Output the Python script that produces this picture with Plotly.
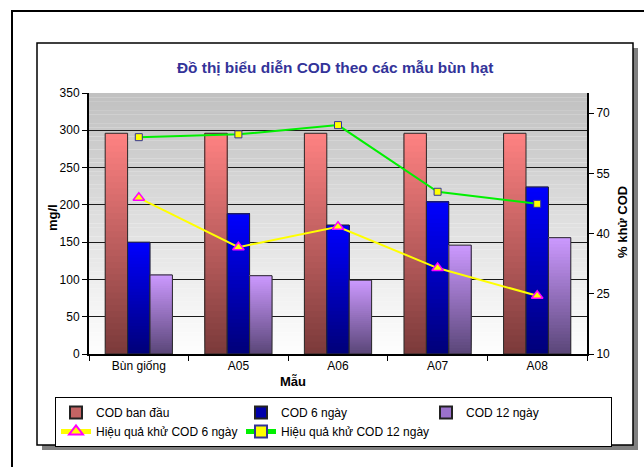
import plotly.graph_objects as go

# Sample categories and measured values
categories = ["Bùn giống", "A05", "A06", "A07", "A08"]
cod_ban_dau = [296, 296, 296, 296, 296]
cod_6_ngay = [150, 188, 173, 204, 224]
cod_12_ngay = [106, 105, 99, 146, 156]
hieu_qua_6 = [48.9, 36.6, 41.7, 31.4, 24.5]
hieu_qua_12 = [64.0, 64.7, 67.0, 50.4, 47.4]

left_ticks = [0, 50, 100, 150, 200, 250, 300, 350]
right_ticks = [10, 25, 40, 55, 70]

W, H = 644, 467
L, R, T, B = 89, 587, 93, 354  # plot area in pixels
FONT = "Liberation Sans, Arial, sans-serif"


def px_x(p):
    return (p - L) / (R - L)


def px_y(p):
    return (B - p) / (B - T)


def hex_to_rgb(h):
    h = h.lstrip("#")
    return tuple(int(h[i:i + 2], 16) for i in (0, 2, 4))


def mix(c0, c1, t):
    a, b = hex_to_rgb(c0), hex_to_rgb(c1)
    return "rgb(%d,%d,%d)" % tuple(round(a[i] + (b[i] - a[i]) * t) for i in range(3))


fig = go.Figure()

# Bar series: vertical gradient (dark at base, light at top) built from stacked layers
series = [
    ("COD ban đầu", cod_ban_dau, "#7a3a3a", "#ff8282", "#c46464", "red"),
    ("COD 6 ngày", cod_6_ngay, "#000078", "#0000ff", "#0000aa", "blue"),
    ("COD 12 ngày", cod_12_ngay, "#5a4678", "#cc99ff", "#9b72cc", "purple"),
]
N = 36
for name, vals, c_bot, c_top, c_leg, grp in series:
    for k in range(N):
        frac = k / N
        fig.add_trace(go.Bar(
            x=categories,
            y=[v * (1 - frac) for v in vals],
            base=[v * frac for v in vals],
            offsetgroup=grp,
            marker=dict(color=mix(c_bot, c_top, (k + 0.5) / N), line=dict(width=0)),
            showlegend=False, hoverinfo="skip",
        ))
    # outline
    fig.add_trace(go.Bar(
        x=categories, y=vals, offsetgroup=grp,
        marker=dict(color="rgba(0,0,0,0)", line=dict(color="#2a2a2a", width=1)),
        showlegend=False, hoverinfo="skip",
    ))
    # legend entry
    fig.add_trace(go.Bar(
        x=categories, y=[None] * len(categories), offsetgroup=grp, name=name,
        marker=dict(color=c_leg, line=dict(color="#222222", width=1)),
    ))

fig.add_trace(go.Scatter(
    x=categories, y=hieu_qua_6, yaxis="y2", name="Hiệu quả khử COD 6 ngày",
    mode="lines+markers",
    line=dict(color="#ffff00", width=2),
    marker=dict(symbol="triangle-up", size=10, color="#ffff00",
                line=dict(color="#ff00ff", width=1.5)),
))
fig.add_trace(go.Scatter(
    x=categories, y=hieu_qua_12, yaxis="y2", name="Hiệu quả khử COD 12 ngày",
    mode="lines+markers",
    line=dict(color="#00f000", width=2),
    marker=dict(symbol="square", size=7, color="#ffff00",
                line=dict(color="#333399", width=1)),
))

shapes = []
# outer border, chart shadow and chart frame
shapes.append(dict(type="rect", xref="paper", yref="paper", layer="below",
                   x0=px_x(12), x1=px_x(700), y0=px_y(520), y1=px_y(11),
                   line=dict(color="black", width=2), fillcolor="white"))
shapes.append(dict(type="rect", xref="paper", yref="paper", layer="below",
                   x0=px_x(42), x1=px_x(638), y0=px_y(450), y1=px_y(48),
                   line=dict(width=0), fillcolor="#808080"))
shapes.append(dict(type="rect", xref="paper", yref="paper", layer="below",
                   x0=px_x(37), x1=px_x(633), y0=px_y(445), y1=px_y(43),
                   line=dict(color="black", width=1.5), fillcolor="white"))
# plot area background: grey at top fading to white at the base
NB = 60
for i in range(NB):
    shapes.append(dict(type="rect", xref="x domain", yref="y domain", layer="below",
                       x0=0, x1=1, y0=i / NB, y1=(i + 1.02) / NB,
                       line=dict(width=0),
                       fillcolor=mix("#ffffff", "#c0c0c0", (i + 0.5) / NB)))

annotations = [
    dict(text="<b>Đồ thị biểu diễn COD theo các mẫu bùn hạt</b>", xref="paper", yref="paper",
         x=px_x(335), y=px_y(67), showarrow=False, xanchor="center", yanchor="middle",
         font=dict(family=FONT, size=15.4, color="#333399")),
    dict(text="<b>mg/l</b>", xref="paper", yref="paper", textangle=-90,
         x=px_x(52), y=px_y(218), showarrow=False, xanchor="center", yanchor="middle",
         font=dict(family=FONT, size=13, color="black")),
    dict(text="<b>% khử COD</b>", xref="paper", yref="paper", textangle=-90,
         x=px_x(622), y=px_y(222), showarrow=False, xanchor="center", yanchor="middle",
         font=dict(family=FONT, size=13, color="black")),
    dict(text="<b>Mẫu</b>", xref="paper", yref="paper",
         x=px_x(293), y=px_y(381), showarrow=False, xanchor="center", yanchor="middle",
         font=dict(family=FONT, size=13, color="black")),
]

fig.update_layout(
    width=W, height=H,
    margin=dict(l=L, r=W - R, t=T, b=H - B, autoexpand=False),
    paper_bgcolor="white", plot_bgcolor="rgba(0,0,0,0)",
    barmode="group", bargap=0.325, bargroupgap=0,
    font=dict(family=FONT, size=12, color="black"),
    shapes=shapes, annotations=annotations,
    xaxis=dict(type="category", showline=True, linecolor="black", linewidth=2,
               ticks="outside", tickson="boundaries", ticklen=5, tickcolor="black",
               showgrid=False, tickfont=dict(size=12)),
    yaxis=dict(range=[0, 350], tickvals=left_ticks, showline=True, linecolor="black",
               linewidth=2, ticks="outside", ticklen=5, tickcolor="black",
               showgrid=True, gridcolor="#1a1a1a", gridwidth=1, zeroline=False,
               tickfont=dict(size=12)),
    yaxis2=dict(range=[10, 75], tickvals=right_ticks, overlaying="y", side="right",
                showline=True, linecolor="black", linewidth=2, ticks="outside",
                ticklen=5, tickcolor="black", showgrid=False, zeroline=False,
                tickfont=dict(size=12)),
    legend=dict(orientation="h", x=px_x(55), y=px_y(397), xanchor="left", yanchor="top",
                bordercolor="black", borderwidth=1, bgcolor="white",
                entrywidth=140, entrywidthmode="pixels",
                font=dict(family=FONT, size=12), traceorder="normal",
                itemsizing="constant", tracegroupgap=0),
    showlegend=True,
)

fig.write_html("out.html")
